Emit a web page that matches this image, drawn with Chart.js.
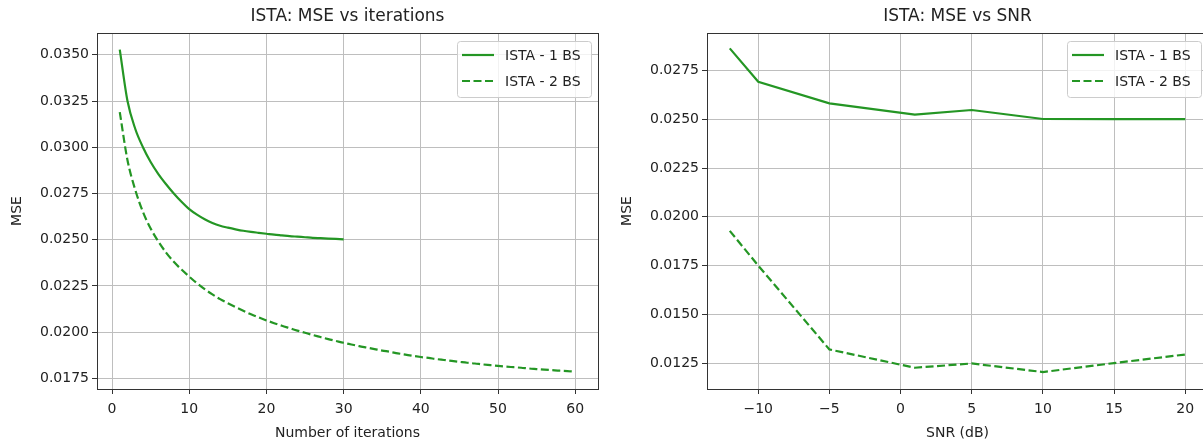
<!DOCTYPE html>
<html>
<head>
<meta charset="utf-8">
<script src="https://cdn.jsdelivr.net/npm/chart.js@4.4.1/dist/chart.umd.min.js"></script>
<style>
  html, body { margin: 0; padding: 0; background: #fff; overflow: hidden; width: 1203px; height: 443px; }
  canvas { position: absolute; top: 0; }
  #left { left: 0; }
  #right { left: 610px; }
</style>
</head>
<body>
<canvas id="left" width="600" height="443"></canvas>
<canvas id="right" width="600" height="443"></canvas>
<script>
// MSE against number of iterations (x = 1, 2, 3, ...)
var mseIter1BS = [0.03528, 0.03250, 0.03100, 0.03000, 0.02920, 0.02855, 0.02800, 0.02750, 0.02705, 0.02665,
                  0.02635, 0.02610, 0.02590, 0.02575, 0.02565, 0.02556, 0.02548, 0.02542, 0.02537, 0.02532,
                  0.02527, 0.02523, 0.02519, 0.02516, 0.02513, 0.02510, 0.02508, 0.02506, 0.02504, 0.02502];
var mseIter2BS = [0.03190, 0.02930, 0.02770, 0.02650, 0.02560, 0.02490, 0.02430, 0.02380, 0.02338, 0.02300,
                  0.02264, 0.02232, 0.02204, 0.02178, 0.02156, 0.02135, 0.02115, 0.02096, 0.02079, 0.02063,
                  0.02048, 0.02034, 0.02021, 0.02008, 0.01996, 0.01984, 0.01973, 0.01962, 0.01952, 0.01942,
                  0.01933, 0.01924, 0.01916, 0.01908, 0.01900, 0.01893, 0.01885, 0.01878, 0.01871, 0.01865,
                  0.01860, 0.01854, 0.01849, 0.01844, 0.01839, 0.01834, 0.01830, 0.01825, 0.01821, 0.01817,
                  0.01813, 0.01810, 0.01807, 0.01803, 0.01800, 0.01797, 0.01794, 0.01791, 0.01789, 0.01786];

// MSE against SNR
var snrDb = [-12, -10, -5, 1, 5, 10, 15, 20];
var mseSnr1BS = [0.02864, 0.02693, 0.02582, 0.02524, 0.02548, 0.02502, 0.02501, 0.02501];
var mseSnr2BS = [0.01928, 0.01750, 0.01320, 0.01226, 0.01248, 0.01204, 0.01250, 0.01294];

var iterTicks = [0, 10, 20, 30, 40, 50, 60];
var iterMseTicks = [0.0175, 0.0200, 0.0225, 0.0250, 0.0275, 0.0300, 0.0325, 0.0350];
var snrTicks = [-10, -5, 0, 5, 10, 15, 20];
var snrMseTicks = [0.0125, 0.0150, 0.0175, 0.0200, 0.0225, 0.0250, 0.0275];

var green = '#249624';
var textColor = '#222';
var fontFamily = 'DejaVu Sans';

// title over the plot, frame round the plot and a matplotlib style legend
var frameAndLegend = {
  id: 'frameAndLegend',
  afterDatasetsDraw(chart, args, opts) {
    var ctx = chart.ctx, a = chart.chartArea;
    ctx.save();
    ctx.strokeStyle = '#333';
    ctx.lineWidth = 1;
    ctx.strokeRect(Math.round(a.left) + 0.5, Math.round(a.top) + 0.5,
                   Math.round(a.right - a.left), Math.round(a.bottom - a.top));

    ctx.fillStyle = textColor;
    ctx.font = '17px "' + fontFamily + '"';
    ctx.textAlign = 'center';
    ctx.textBaseline = 'middle';
    ctx.fillText(opts.title, (a.left + a.right) / 2, 17);

    var w = 134, h = 56;
    var x = a.right - 7 - w, y = a.top + 8;
    ctx.beginPath();
    ctx.roundRect(x + 0.5, y + 0.5, w, h, 3);
    ctx.fillStyle = 'rgba(255,255,255,0.8)';
    ctx.fill();
    ctx.strokeStyle = '#cccccc';
    ctx.stroke();

    chart.data.datasets.forEach(function (ds, i) {
      var ly = y + 14 + i * 26;
      ctx.beginPath();
      ctx.strokeStyle = ds.borderColor;
      ctx.lineWidth = ds.borderWidth;
      ctx.setLineDash(ds.borderDash || []);
      ctx.moveTo(x + 5, ly);
      ctx.lineTo(x + 37, ly);
      ctx.stroke();
      ctx.setLineDash([]);
      ctx.fillStyle = textColor;
      ctx.font = '14px "' + fontFamily + '"';
      ctx.textBaseline = 'middle';
      ctx.textAlign = 'left';
      ctx.fillText(ds.label, x + 48, ly + 1);
    });
    ctx.restore();
  }
};

function makeChart(id, title, xTitle, xs1, ys1, xs2, ys2, xRange, yRange, xTicks, yTicks, smooth) {
  var pts1 = ys1.map(function (v, i) { return { x: xs1[i], y: v }; });
  var pts2 = ys2.map(function (v, i) { return { x: xs2[i], y: v }; });
  var mode = smooth ? 'monotone' : 'default';
  return new Chart(document.getElementById(id), {
    type: 'line',
    data: {
      datasets: [
        { label: 'ISTA - 1 BS', data: pts1, borderColor: green, borderWidth: 2.2, pointRadius: 0,
          tension: 0, cubicInterpolationMode: mode, fill: false },
        { label: 'ISTA - 2 BS', data: pts2, borderColor: green, borderWidth: 2.2, borderDash: [8, 3.5], pointRadius: 0,
          tension: 0, cubicInterpolationMode: mode, fill: false }
      ]
    },
    options: {
      responsive: false,
      animation: false,
      layout: { padding: { left: 0, right: 2, top: 33, bottom: 0 } },
      plugins: {
        legend: { display: false },
        tooltip: { enabled: false },
        title: { display: false },
        frameAndLegend: { title: title }
      },
      scales: {
        x: {
          type: 'linear',
          min: xRange[0],
          max: xRange[1],
          afterBuildTicks: function (scale) { scale.ticks = xTicks.map(function (v) { return { value: v }; }); },
          afterFit: function (scale) { scale.height = 54; },
          ticks: {
            autoSkip: false,
            maxRotation: 0,
            padding: 7,
            color: textColor,
            font: { family: fontFamily, size: 14 },
            callback: function (v) { return v < 0 ? '\u2212' + Math.abs(v) : String(v); }
          },
          grid: { color: '#bebebe', lineWidth: 1, tickColor: '#333', tickLength: 5 },
          border: { display: false },
          title: {
            display: true,
            text: xTitle,
            color: textColor,
            font: { family: fontFamily, size: 14 },
            padding: { top: 0, bottom: 1 }
          }
        },
        y: {
          type: 'linear',
          min: yRange[0],
          max: yRange[1],
          afterBuildTicks: function (scale) { scale.ticks = yTicks.map(function (v) { return { value: v }; }); },
          afterFit: function (scale) { scale.width = 97; },
          ticks: {
            autoSkip: false,
            padding: 3,
            color: textColor,
            font: { family: fontFamily, size: 14 },
            callback: function (v) { return v.toFixed(4); }
          },
          grid: { color: '#bebebe', lineWidth: 1, tickColor: '#333', tickLength: 5 },
          border: { display: false },
          title: {
            display: true,
            text: 'MSE',
            color: textColor,
            font: { family: fontFamily, size: 14 },
            padding: { top: 9, bottom: 0 }
          }
        }
      }
    },
    plugins: [frameAndLegend]
  });
}

var iterX1 = mseIter1BS.map(function (v, i) { return i + 1; });
var iterX2 = mseIter2BS.map(function (v, i) { return i + 1; });

makeChart('left', 'ISTA: MSE vs iterations', 'Number of iterations',
  iterX1, mseIter1BS, iterX2, mseIter2BS,
  [-1.95, 62.95], [0.01692, 0.03618], iterTicks, iterMseTicks, true);

makeChart('right', 'ISTA: MSE vs SNR', 'SNR (dB)',
  snrDb, mseSnr1BS, snrDb, mseSnr2BS,
  [-13.6, 21.6], [0.01117, 0.02943], snrTicks, snrMseTicks, false);
</script>
</body>
</html>
